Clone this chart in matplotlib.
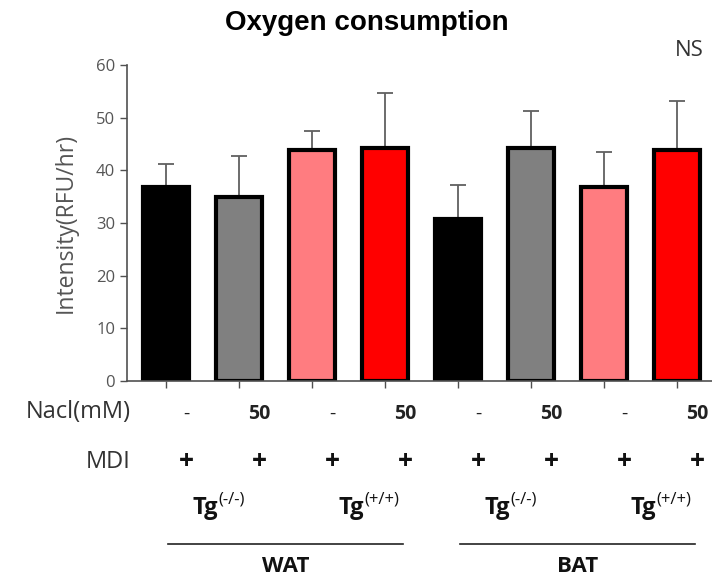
import matplotlib
matplotlib.use("Agg")
import matplotlib.pyplot as plt
import matplotlib.transforms as mtransforms
import numpy as np

# bar data, left to right
means = [36.8, 35.0, 43.8, 44.3, 30.7, 44.3, 36.9, 43.8]
errors = [4.4, 7.8, 3.7, 10.4, 6.5, 6.9, 6.6, 9.3]
colors = ["#000000", "#808080", "#FF7C80", "#FF0000",
          "#000000", "#808080", "#FF7C80", "#FF0000"]
nacl = ["-", "50", "-", "50", "-", "50", "-", "50"]
mdi = ["+"] * 8
genotypes = ["(-/-)", "(+/+)", "(-/-)", "(+/+)"]
tissues = ["WAT", "BAT"]
yticks = [0, 10, 20, 30, 40, 50, 60]

plt.rcParams["font.family"] = ["Open Sans", "DejaVu Sans"]

GRAY = "#505050"

fig = plt.figure(figsize=(7.12, 5.79), dpi=100)
ax = fig.add_axes([0.1784, 0.342, 0.8216, 0.5458])

x = np.arange(len(means))
ax.bar(x, means, width=0.64, color=colors, edgecolor="black", linewidth=3,
       zorder=2)
ax.errorbar(x, means, yerr=[np.zeros(len(errors)), errors], fmt="none",
            ecolor="#606060", elinewidth=1.3, capsize=6, capthick=1.3,
            zorder=1)

ax.set_xlim(-0.534, 7.48)
ax.set_ylim(0, 60)
ax.set_yticks(yticks)
ax.set_xticks(x)
ax.set_xticklabels([])
ax.tick_params(axis="y", direction="out", length=5, width=1, colors=GRAY,
               labelsize=12, labelcolor="#555555")
ax.tick_params(axis="x", direction="out", length=5, width=1, colors=GRAY)
for side in ("top", "right"):
    ax.spines[side].set_visible(False)
for side in ("left", "bottom"):
    ax.spines[side].set_color(GRAY)
    ax.spines[side].set_linewidth(1.2)
ax.set_ylabel("Intensity(RFU/hr)", fontsize=16.5, color="#555555",
              labelpad=13)

fig.text(0.515, 0.960, "Oxygen consumption", ha="center", va="center",
         fontsize=20, fontweight="bold", family="Liberation Sans")
fig.text(0.968, 0.913, "NS", ha="center", va="center", fontsize=16,
         color="#333333")

# table rows under the axis: data x, figure y, shifted ~20 px right
trans = mtransforms.blended_transform_factory(ax.transData, fig.transFigure)
shift = mtransforms.ScaledTranslation(0.2, 0, fig.dpi_scale_trans)
row = trans + shift

fig.text(0.183, 1 - 412 / 579, "Nacl(mM)", ha="right", va="center",
         fontsize=17, color="#333333")
fig.text(0.183, 1 - 462 / 579, "MDI", ha="right", va="center",
         fontsize=17, color="#333333")
for i in range(len(x)):
    weight = "normal" if nacl[i] == "-" else "bold"
    ax.text(x[i], 1 - 414 / 579, nacl[i], transform=row, ha="center",
            va="center", fontsize=14, fontweight=weight, color="#222222")
    ax.text(x[i], 1 - 462 / 579, mdi[i], transform=row, ha="center",
            va="center", fontsize=19, fontweight="bold", color="#111111")

# genotype labels: bold "Tg" with a regular superscript
for k, g in enumerate(genotypes):
    xc = (x[2 * k] + x[2 * k + 1]) / 2 - 0.06
    ax.text(xc, 1 - 508 / 579, "Tg", transform=row, ha="right",
            va="center", fontsize=17, fontweight="bold", color="#111111")
    ax.text(xc + 0.01, 1 - 499 / 579, g, transform=row, ha="left",
            va="center", fontsize=12, color="#111111")

for k, t in enumerate(tissues):
    x0, x1 = x[4 * k] - 0.24, x[4 * k + 3] - 0.03
    ax.plot([x0, x1], [1 - 544 / 579] * 2, transform=row, color="#222222",
            linewidth=1.2, clip_on=False)
    ax.text((x0 + x1) / 2, 1 - 566 / 579, t, transform=row, ha="center",
            va="center", fontsize=16, fontweight="bold", color="#111111")

fig.savefig("out.png", dpi=100)
